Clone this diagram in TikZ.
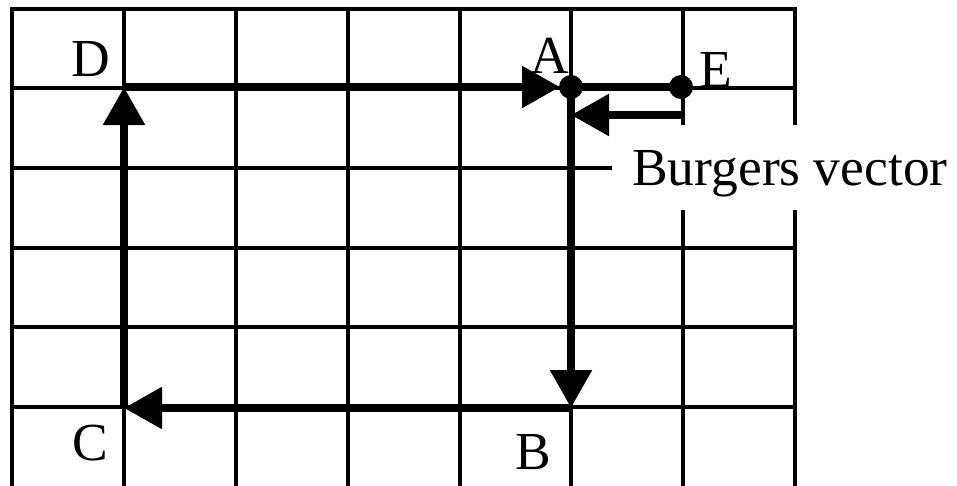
\documentclass[tikz,border=0pt]{standalone}
\usepackage{fontspec}
\setmainfont{Liberation Serif}
\usetikzlibrary{arrows.meta}
\tikzset{
  gridline/.style={line width=4pt, line cap=rect},
  thickpath/.style={line width=8.5pt},
  bigtip/.style={-{Triangle[length=38pt,width=40pt]}},
  dotnode/.style={circle, fill=black, minimum size=24pt, inner sep=0pt},
  lbl/.style={inner sep=0pt, anchor=base, font=\fontsize{53.5}{60}\selectfont}
}
\begin{document}
\begin{tikzpicture}[x=1pt,y=-1pt]
\useasboundingbox (0,0) rectangle (957,485);
% grid
\foreach \x in {12,124,236,348,460,571,683,795}
  \draw[gridline] (\x,9) -- (\x,485);
\foreach \y in {9,88,168,248,327,407}
  \draw[gridline] (12,\y) -- (795,\y);
% gap behind the label
\fill[white] (612,125) rectangle (960,210);
% corners of the circuit
\coordinate (D) at (124,87);
\coordinate (A) at (571,87);
\coordinate (B) at (571,408);
\coordinate (C) at (124,408);
\coordinate (E) at (681,87);
\coordinate (bs) at (681,115);
\coordinate (be) at (571,115);
% circuit
\draw[thickpath, bigtip, shorten >=11pt] (D) -- (A);
\draw[thickpath, bigtip] (A) -- (B);
\draw[thickpath, bigtip] (B) -- (C);
\draw[thickpath, bigtip] (C) -- (D);
\draw[thickpath] (A) -- (E);
% Burgers vector
\draw[thickpath, bigtip] (bs) -- (be);
\node[dotnode] (dotA) at (A) {};
\node[dotnode] (dotE) at (E) {};
% labels
\node[lbl] (lD) at (91,76) {D};
\node[lbl] (lA) at (550,73) {A};
\node[lbl] (lE) at (716,87) {E};
\node[lbl] (lC) at (90,460) {C};
\node[lbl] (lB) at (533,469) {B};
\node[lbl, anchor=base west] (lbv) at (632,185) {Burgers vector};
\end{tikzpicture}
\end{document}
